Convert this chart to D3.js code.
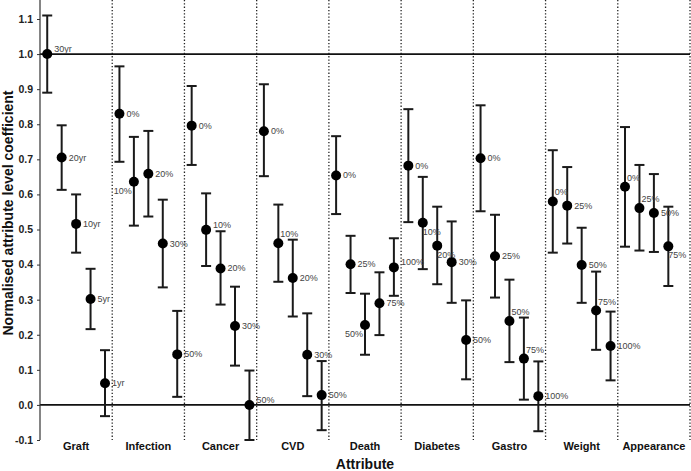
<!DOCTYPE html>
<html>
<head>
<meta charset="utf-8">
<script src="https://cdn.jsdelivr.net/npm/d3@7"></script>
<style>
  html, body { margin: 0; padding: 0; background: #fff; }
  svg { display: block; font-family: "Liberation Sans", Arial, sans-serif; }
</style>
</head>
<body>
<svg id="chart" width="691" height="471"></svg>
<script>
// ---- data ----
const categories = ["Graft", "Infection", "Cancer", "CVD", "Death", "Diabetes", "Gastro", "Weight", "Appearance"];

const levelLabels = [
  ["30yr", "20yr", "10yr", "5yr", "1yr"],
  ["0%", "10%", "20%", "30%", "50%"],
  ["0%", "10%", "20%", "30%", "50%"],
  ["0%", "10%", "20%", "30%", "50%"],
  ["0%", "25%", "50%", "75%", "100%"],
  ["0%", "10%", "20%", "30%", "50%"],
  ["0%", "25%", "50%", "75%", "100%"],
  ["0%", "25%", "50%", "75%", "100%"],
  ["0%", "25%", "50%", "75%"]
];

const coefficients = [
  [1.000, 0.705, 0.516, 0.302, 0.062],
  [0.830, 0.636, 0.659, 0.460, 0.144],
  [0.796, 0.499, 0.389, 0.225, 0.000],
  [0.780, 0.461, 0.362, 0.143, 0.028],
  [0.654, 0.401, 0.228, 0.290, 0.392],
  [0.682, 0.519, 0.454, 0.407, 0.185],
  [0.703, 0.424, 0.239, 0.132, 0.025],
  [0.580, 0.568, 0.399, 0.269, 0.168],
  [0.622, 0.561, 0.547, 0.452]
];

const lowerCI = [
  [0.890, 0.613, 0.434, 0.216, -0.032],
  [0.693, 0.511, 0.537, 0.335, 0.023],
  [0.684, 0.396, 0.286, 0.112, -0.100],
  [0.652, 0.351, 0.252, 0.025, -0.072],
  [0.544, 0.319, 0.143, 0.199, 0.311],
  [0.521, 0.387, 0.344, 0.291, 0.073],
  [0.552, 0.306, 0.122, 0.015, -0.075],
  [0.434, 0.460, 0.291, 0.157, 0.070],
  [0.451, 0.440, 0.436, 0.339]
];

const upperCI = [
  [1.110, 0.797, 0.600, 0.388, 0.156],
  [0.965, 0.764, 0.781, 0.585, 0.268],
  [0.909, 0.603, 0.495, 0.337, 0.098],
  [0.914, 0.571, 0.471, 0.261, 0.125],
  [0.766, 0.482, 0.317, 0.378, 0.475],
  [0.843, 0.650, 0.565, 0.523, 0.298],
  [0.854, 0.542, 0.357, 0.249, 0.124],
  [0.726, 0.678, 0.505, 0.380, 0.266],
  [0.792, 0.684, 0.658, 0.565]
];

const yTicks = [-0.1, 0.0, 0.1, 0.2, 0.3, 0.4, 0.5, 0.6, 0.7, 0.8, 0.9, 1.0, 1.1];
const refLines = [0.0, 1.0];

// label placement hints (style only)
const labelPlacement = [
  ["ru", "r", "r", "r", "r"],
  ["r", "dl", "r", "r", "r"],
  ["r", "ru", "r", "r", "ru"],
  ["r", "ur", "r", "r", "r"],
  ["r", "r", "dl", "r", "ru"],
  ["r", "dr", "dr", "r", "r"],
  ["r", "r", "ur", "ur", "r"],
  ["ur", "r", "r", "ur", "r"],
  ["ur", "ur", "r", "dr"]
];

// ---- layout ----
const plotLeft = 40, plotRight = 690, plotTop = 0, plotBottom = 440;
const svg = d3.select("#chart");

const x = d3.scaleBand().domain(categories).range([plotLeft, plotRight]).padding(0);
const inner = d3.scaleBand().domain(d3.range(5)).range([0, x.bandwidth()]).padding(0);
const y = d3.scaleLinear().domain([-0.1, 1.1]).range([plotBottom, 19]);

// flatten
const points = [];
categories.forEach((c, gi) => {
  coefficients[gi].forEach((v, li) => {
    points.push({
      cat: c, idx: li, label: levelLabels[gi][li], v: v,
      lo: lowerCI[gi][li], hi: upperCI[gi][li], place: labelPlacement[gi][li]
    });
  });
});
const px = d => x(d.cat) + inner(d.idx) + inner.bandwidth() / 2;

// dotted separators
svg.append("g").selectAll("line")
  .data(categories)
  .join("line")
  .attr("x1", d => x(d) + x.bandwidth())
  .attr("x2", d => x(d) + x.bandwidth())
  .attr("y1", plotTop)
  .attr("y2", plotBottom)
  .attr("stroke", "#222")
  .attr("stroke-width", 1.3)
  .attr("stroke-dasharray", "1.3,2");

// reference lines
svg.append("g").selectAll("line")
  .data(refLines)
  .join("line")
  .attr("x1", plotLeft).attr("x2", plotRight)
  .attr("y1", d => y(d)).attr("y2", d => y(d))
  .attr("stroke", "#111")
  .attr("stroke-width", 1.6);

// y axis
const yAxis = d3.axisLeft(y)
  .tickValues(yTicks)
  .tickFormat(d => d.toFixed(1))
  .tickSize(3)
  .tickPadding(4);
const gy = svg.append("g").attr("transform", `translate(${plotLeft},0)`).call(yAxis);
gy.select(".domain").remove();
gy.selectAll(".tick line").attr("stroke", "#333").attr("stroke-width", 1);
gy.selectAll(".tick text")
  .attr("font-family", "Liberation Sans, Arial, sans-serif")
  .attr("font-size", 10.5)
  .attr("font-weight", "bold")
  .attr("fill", "#222");
svg.append("line")
  .attr("x1", plotLeft).attr("x2", plotLeft)
  .attr("y1", plotTop).attr("y2", plotBottom)
  .attr("stroke", "#333").attr("stroke-width", 1.2);

// category labels
svg.append("g").selectAll("text")
  .data(categories)
  .join("text")
  .attr("x", d => x(d) + x.bandwidth() / 2)
  .attr("y", 450)
  .attr("text-anchor", "middle")
  .attr("font-size", 11)
  .attr("font-weight", "bold")
  .attr("fill", "#111")
  .text(d => d);

// axis titles
svg.append("text")
  .attr("x", (plotLeft + plotRight) / 2)
  .attr("y", 469)
  .attr("text-anchor", "middle")
  .attr("font-size", 14)
  .attr("font-weight", "bold")
  .attr("fill", "#111")
  .text("Attribute");

svg.append("text")
  .attr("transform", `translate(13,213) rotate(-90)`)
  .attr("text-anchor", "middle")
  .attr("font-size", 14)
  .attr("font-weight", "bold")
  .attr("fill", "#111")
  .text("Normalised attribute level coefficient");

// error bars
const eb = svg.append("g").attr("stroke", "#1a1a1a").attr("stroke-width", 2);
eb.selectAll("line.v").data(points).join("line").attr("class", "v")
  .attr("x1", px).attr("x2", px)
  .attr("y1", d => y(d.lo)).attr("y2", d => y(d.hi));
eb.selectAll("line.t").data(points).join("line").attr("class", "t")
  .attr("x1", d => px(d) - 5).attr("x2", d => px(d) + 5)
  .attr("y1", d => y(d.hi)).attr("y2", d => y(d.hi));
eb.selectAll("line.b").data(points).join("line").attr("class", "b")
  .attr("x1", d => px(d) - 5).attr("x2", d => px(d) + 5)
  .attr("y1", d => y(d.lo)).attr("y2", d => y(d.lo));

// dots
svg.append("g").selectAll("circle")
  .data(points)
  .join("circle")
  .attr("cx", px)
  .attr("cy", d => y(d.v))
  .attr("r", 5)
  .attr("fill", "#000");

// point labels
const off = {
  r:  { dx: 7, dy: 3, anchor: "start" },
  ru: { dx: 7, dy: -2, anchor: "start" },
  ur: { dx: 2, dy: -6, anchor: "start" },
  dr: { dx: 0, dy: 12, anchor: "start" },
  dl: { dx: -2, dy: 12, anchor: "end" }
};
svg.append("g").selectAll("text")
  .data(points)
  .join("text")
  .attr("x", d => px(d) + off[d.place].dx)
  .attr("y", d => y(d.v) + off[d.place].dy)
  .attr("text-anchor", d => off[d.place].anchor)
  .attr("font-size", 9)
  .attr("fill", "#444")
  .text(d => d.label);
</script>
</body>
</html>
